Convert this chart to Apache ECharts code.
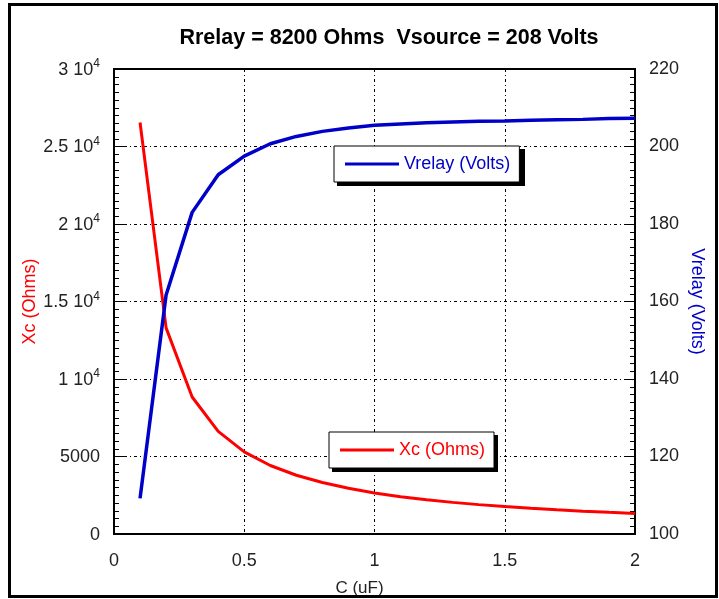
<!DOCTYPE html>
<html>
<head>
<meta charset="utf-8">
<script src="https://cdn.jsdelivr.net/npm/echarts@6/dist/echarts.min.js"></script>
<style>
html,body{margin:0;padding:0;background:#fff;}
#chart{width:719px;height:599px;}
</style>
</head>
<body>
<div id="chart"></div>
<script>
// ---- data ----
var titleText = 'Rrelay = 8200 Ohms  Vsource = 208 Volts';
var xValues = [0.1, 0.2, 0.3, 0.4, 0.5, 0.6, 0.7, 0.8, 0.9, 1.0, 1.1, 1.2, 1.3, 1.4, 1.5, 1.6, 1.7, 1.8, 1.9, 2.0];
var xcValues = [26550, 13300, 8840, 6620, 5300, 4420, 3790, 3320, 2950, 2650, 2410, 2210, 2040, 1895, 1770, 1660, 1560, 1475, 1400, 1330];
var vrelayValues = [109.2, 161.7, 183.0, 192.7, 197.5, 200.7, 202.6, 203.9, 204.8, 205.5, 205.8, 206.1, 206.3, 206.5, 206.6, 206.8, 206.9, 207.0, 207.2, 207.3];
var xTickLabels = ['0', '0.5', '1', '1.5', '2'];
var leftTickMantissa = ['0', '5000', '1', '1.5', '2', '2.5', '3'];
var leftTickExponent = ['', '', '4', '4', '4', '4', '4'];
var rightTickLabels = ['100', '120', '140', '160', '180', '200', '220'];
var xcName = 'Xc (Ohms)';
var vrelayName = 'Vrelay (Volts)';
var xName = 'C (uF)';

var RED = '#ff0000';
var BLUE = '#0000c8';
var FONT = 'Liberation Sans, Arial, sans-serif';
var LABEL = '#222';
var gridDash = [3, 3, 1, 3];

var chart = echarts.init(document.getElementById('chart'), null, {renderer: 'canvas'});

function pairs(xs, ys) { return xs.map(function (x, i) { return [x, ys[i]]; }); }

var legendBase = {
  orient: 'horizontal',
  backgroundColor: '#fff', borderColor: '#000', borderWidth: 1,
  padding: [9, 9, 9, 11],
  icon: 'rect', itemWidth: 54, itemHeight: 3, itemGap: 5,
  z: 10
};

var option = {
  animation: false,
  backgroundColor: '#fff',
  textStyle: {fontFamily: FONT},
  title: {
    text: titleText,
    left: 384, top: 22, textAlign: 'center',
    textStyle: {fontFamily: FONT, fontWeight: 'bold', fontSize: 21.5, color: '#000'}
  },
  graphic: [{
    type: 'rect', silent: true, z: 100,
    shape: {x: 9.5, y: 4.5, width: 707, height: 592},
    style: {fill: 'none', stroke: '#000', lineWidth: 3}
  }, {
    type: 'rect', silent: true, z: 9,
    shape: {x: 337, y: 149, width: 188, height: 37},
    style: {fill: '#000'}
  }, {
    type: 'rect', silent: true, z: 9,
    shape: {x: 332, y: 435, width: 166, height: 37},
    style: {fill: '#000'}
  }],
  grid: {
    left: 114, top: 69, right: 84, bottom: 65,
    containLabel: false, outerBoundsMode: 'none',
    show: true, borderColor: '#000', borderWidth: 2, backgroundColor: '#fff'
  },
  legend: [
    Object.assign({}, legendBase, {
      data: [vrelayName], left: 334, top: 146,
      textStyle: {color: BLUE, fontSize: 18, fontFamily: FONT}
    }),
    Object.assign({}, legendBase, {
      data: [xcName], left: 329, top: 432,
      textStyle: {color: RED, fontSize: 18, fontFamily: FONT}
    })
  ],
  xAxis: {
    type: 'value', min: 0, max: 2, interval: 0.5,
    name: xName, nameLocation: 'middle', nameGap: 46, nameMoveOverlap: false,
    nameTextStyle: {fontSize: 17, color: LABEL, fontFamily: FONT, padding: [0, 30, 0, 0]},
    axisLine: {show: true, lineStyle: {color: '#000', width: 2}},
    axisTick: {show: false},
    axisLabel: {
      margin: 18, fontSize: 18, color: LABEL, fontFamily: FONT,
      formatter: function (v) { return xTickLabels[Math.round(v / 0.5)]; }
    },
    splitLine: {show: true, lineStyle: {color: '#000', width: 1, type: gridDash}}
  },
  yAxis: [{
    type: 'value', min: 0, max: 30000, interval: 5000, position: 'left',
    name: xcName, nameLocation: 'middle', nameGap: 75, nameRotate: 90, nameMoveOverlap: false,
    nameTextStyle: {fontSize: 18, color: RED, fontFamily: FONT},
    axisLine: {show: true, lineStyle: {color: '#000', width: 2}},
    axisTick: {show: true, inside: true, length: 10, lineStyle: {color: '#000', width: 1}},
    minorTick: {show: true, splitNumber: 10, length: 5, lineStyle: {color: '#000', width: 1}},
    axisLabel: {
      margin: 14, color: LABEL, fontFamily: FONT,
      formatter: function (v) {
        var i = Math.round(v / 5000);
        var s = '{b|' + leftTickMantissa[i] + (leftTickExponent[i] ? ' 10' : '') + '}';
        if (leftTickExponent[i]) s += '{s|' + leftTickExponent[i] + '}';
        return s;
      },
      rich: {
        b: {fontSize: 18, color: LABEL, fontFamily: FONT, verticalAlign: 'bottom', lineHeight: 20},
        s: {fontSize: 12, color: LABEL, fontFamily: FONT, verticalAlign: 'bottom', lineHeight: 20, padding: [0, 0, 9, 0]}
      }
    },
    splitLine: {show: true, lineStyle: {color: '#000', width: 1, type: gridDash}}
  }, {
    type: 'value', min: 100, max: 220, interval: 20, position: 'right',
    name: vrelayName, nameLocation: 'middle', nameGap: 53, nameRotate: -90, nameMoveOverlap: false,
    nameTextStyle: {fontSize: 18, color: BLUE, fontFamily: FONT},
    axisLine: {show: true, lineStyle: {color: '#000', width: 2}},
    axisTick: {show: true, inside: true, length: 10, lineStyle: {color: '#000', width: 1}},
    minorTick: {show: true, splitNumber: 10, length: 5, lineStyle: {color: '#000', width: 1}},
    axisLabel: {
      margin: 14, fontSize: 18, color: LABEL, fontFamily: FONT,
      formatter: function (v) { return rightTickLabels[Math.round((v - 100) / 20)]; }
    },
    splitLine: {show: false}
  }],
  series: [{
    name: xcName, type: 'line', yAxisIndex: 0,
    data: pairs(xValues, xcValues),
    showSymbol: false, symbol: 'none',
    lineStyle: {color: RED, width: 3},
    itemStyle: {color: RED},
    z: 3
  }, {
    name: vrelayName, type: 'line', yAxisIndex: 1,
    data: pairs(xValues, vrelayValues),
    showSymbol: false, symbol: 'none',
    lineStyle: {color: BLUE, width: 3.5},
    itemStyle: {color: BLUE},
    z: 4
  }]
};
chart.setOption(option);
</script>
</body>
</html>
